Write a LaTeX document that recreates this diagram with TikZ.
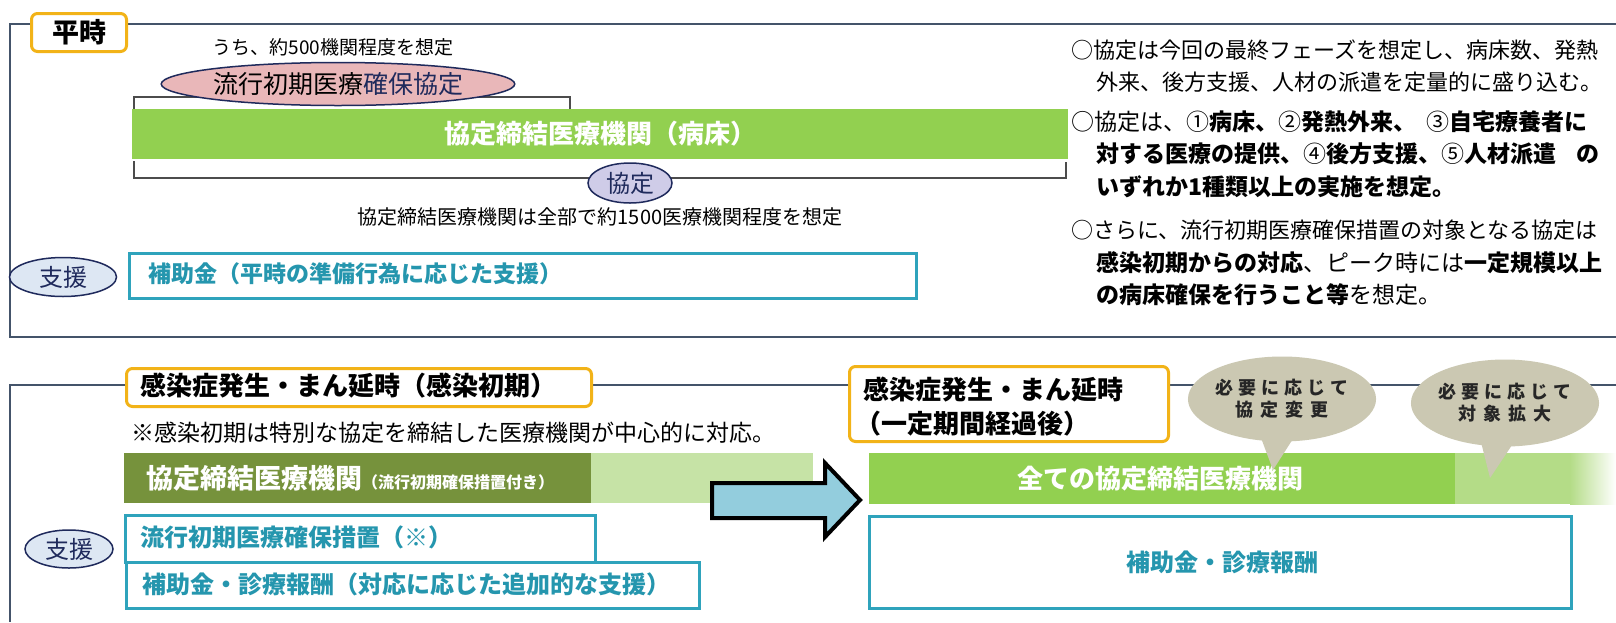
\documentclass[tikz,border=0pt]{standalone}
\usepackage{fontspec}
\setmainfont{Noto Sans CJK JP}
\usetikzlibrary{shapes.geometric,shapes.callouts}
\definecolor{frameC}{HTML}{44546A}
\definecolor{orangeC}{HTML}{F2B318}
\definecolor{greenC}{HTML}{92D050}
\definecolor{lgreenC}{HTML}{B4DC87}
\definecolor{paleGreen}{HTML}{C6E3A6}
\definecolor{oliveC}{HTML}{76923C}
\definecolor{tealC}{HTML}{2FA3BC}
\definecolor{tealT}{HTML}{2596AE}
\definecolor{navyC}{HTML}{1F2A5C}
\definecolor{pinkC}{HTML}{E9B7B9}
\definecolor{lavC}{HTML}{CFCCE8}
\definecolor{lblueC}{HTML}{DDE7F3}
\definecolor{arrowC}{HTML}{93CDDD}
\definecolor{beigeC}{HTML}{CBC8B2}
\newcommand\lsk[1]{\kern#1pt}
\tikzset{
  frame/.style={draw=frameC, line width=2pt},
  lbl/.style={draw=orangeC, line width=3pt, rounded corners=6pt, fill=white, inner sep=0pt},
  tealbox/.style={draw=tealC, line width=3pt, inner sep=0pt},
  bar/.style={inner sep=0pt},
  support/.style={ellipse, draw=navyC, line width=1.5pt, fill=lblueC, inner sep=0pt, text=navyC, font=\fontsize{24}{24}\selectfont},
  body/.style={inner sep=0pt, font=\fontsize{23}{28}\selectfont},
  rtext/.style={inner sep=0pt, anchor=west, font=\fontsize{22}{26}\selectfont},
  rbold/.style={inner sep=0pt, anchor=west, font=\fontsize{23}{26}\selectfont},
  tealtext/.style={inner sep=0pt, text=tealT, font=\fontsize{24}{28}\selectfont\bfseries},
  bracket/.style={draw=black!70, line width=1.5pt},
  bubble/.style={ellipse callout, fill=beigeC, inner sep=0pt, callout pointer arc=18, align=center, text=black!85, font=\fontsize{18}{22}\selectfont\bfseries}
}
\begin{document}
\begin{tikzpicture}[x=1pt,y=-1pt]
\useasboundingbox[fill=white] (0,0) rectangle (1616,622);
% ---------- top panel ----------
\draw[frame] (1616,24) -- (10,24) -- (10,337) -- (1616,337);
\node[lbl, minimum width=95, minimum height=38, anchor=north west] (heiji) at (30,12) {};
\node[inner sep=0pt, font=\fontsize{27}{27}\selectfont\bfseries] (heijiT) at (heiji.center) {平時};
\node[body, font=\fontsize{19}{22}\selectfont] (uchi) at (333,47) {うち、約500機関程度を想定};
\draw[bracket] (134,110) -- (134,97) -- (570,97) -- (570,110);
\node[ellipse, draw=navyC, line width=1.5pt, fill=pinkC, minimum width=285, minimum height=43, inner sep=0pt, font=\fontsize{25}{25}\selectfont] (ryuko) at (338,84) {流行初期医療\textcolor{navyC}{確保協定}};
\node[bar, fill=greenC, minimum width=936, minimum height=50, anchor=north west] (gbar) at (132,109) {};
\node[inner sep=0pt, text=white, font=\fontsize{26}{26}\selectfont\bfseries] (gbarT) at (600,134) {協定締結医療機関（病床）};
\draw[bracket] (134,161) -- (134,178) -- (1066,178) -- (1066,162);
\node[ellipse, draw=navyC, line width=1.5pt, fill=lavC, minimum width=84, minimum height=40, inner sep=0pt, text=navyC, font=\fontsize{24}{24}\selectfont] (kyotei) at (630,183) {協定};
\node[body, font=\fontsize{20}{24}\selectfont] (all1500) at (600,217) {協定締結医療機関は全部で約1500医療機関程度を想定};
\node[support, minimum width=107, minimum height=39] (shien1) at (63,277) {支援};
\node[tealbox, minimum width=787, minimum height=45, anchor=north west] (hojo1) at (128,252) {};
\node[tealtext, font=\fontsize{23}{28}\selectfont\bfseries, anchor=west] (hojo1T) at (148,274) {補助金（平時の準備行為に応じた支援）};
% right text
\node[rtext] (r1) at (1071,50) {○協定は今回の最終フェーズを想定し、病床数、発熱};
\node[rtext] (r2) at (1096,82) {外来、後方支援、人材の派遣を定量的に盛り込む。};
\node[rbold] (r3) at (1071,122) {○協定は、①{\bfseries 病床、}②{\bfseries 発熱外来、}\kern10pt③{\bfseries 自宅療養者に}};
\node[rbold] (r4) at (1096,154) {\bfseries 対する医療の提供、{\mdseries ④}後方支援、{\mdseries ⑤}人材派遣\kern20pt の};
\node[rbold] (r5) at (1096,187) {\bfseries いずれか1種類以上の実施を想定。};
\node[rtext] (r6) at (1071,230) {○さらに、流行初期医療確保措置の対象となる協定は};
\node[rbold] (r7) at (1096,263) {{\bfseries 感染初期からの対応}、ピーク時には{\bfseries 一定規模以上}};
\node[rbold] (r8) at (1096,295) {{\bfseries の病床確保を行うこと等}を想定。};
% ---------- bottom panel ----------
\draw[frame] (1616,385) -- (10,385) -- (10,622);
\node[lbl, minimum width=465, minimum height=38, anchor=north west] (early) at (125,367) {};
\node[inner sep=0pt, font=\fontsize{26}{26}\selectfont\bfseries, anchor=west] (earlyT) at (140,386) {感染症発生・まん延時（感染初期）};
\node[body, anchor=west] (note) at (131,433) {※感染初期は特別な協定を締結した医療機関が中心的に対応。};
\node[bar, fill=paleGreen, minimum width=222, minimum height=50, anchor=north west] (pale) at (591,453) {};
\node[bar, fill=oliveC, minimum width=467, minimum height=50, anchor=north west] (olive) at (124,453) {};
\node[inner sep=0pt, text=white, anchor=west] (oliveT) at (146,478) {{\fontsize{27}{27}\selectfont\bfseries 協定締結医療機関}{\fontsize{16}{16}\selectfont\bfseries （流行初期確保措置付き）}};
\node[tealbox, minimum width=470, minimum height=47, anchor=north west] (sochi) at (124,514) {};
\node[tealtext, anchor=west] (sochiT) at (140,537) {流行初期医療確保措置（※）};
\node[tealbox, minimum width=573, minimum height=46, anchor=north west] (hojo2) at (125,561) {};
\node[tealtext, anchor=west] (hojo2T) at (142,584) {補助金・診療報酬（対応に応じた追加的な支援）};
\node[support, minimum width=88, minimum height=38] (shien2) at (69,549) {支援};
\draw[line width=4pt, fill=arrowC, line join=miter] (712,483) -- (825,483) -- (825,463) -- (860,500) -- (825,537) -- (825,518) -- (712,518) -- cycle;
\node[lbl, minimum width=319, minimum height=75, anchor=north west] (later) at (848,365) {};
\node[inner sep=0pt, font=\fontsize{26}{26}\selectfont\bfseries, anchor=west] (laterT1) at (863,390) {感染症発生・まん延時};
\node[inner sep=0pt, font=\fontsize{26}{26}\selectfont\bfseries, anchor=west] (laterT2) at (855,424) {（一定期間経過後）};
\node[bar, fill=greenC, minimum width=586, minimum height=51, anchor=north west] (gbar2) at (869,453) {};
\node[bar, fill=lgreenC, minimum width=115, minimum height=51, anchor=north west] (gbar2b) at (1455,453) {};
\shade[left color=lgreenC, right color=white] (1570,453) rectangle (1616,504);
\node[inner sep=0pt, text=white, font=\fontsize{26}{26}\selectfont\bfseries] (gbar2T) at (1160,479) {全ての協定締結医療機関};
\node[tealbox, minimum width=702, minimum height=92, anchor=north west] (hojo3) at (868,515) {};
\node[tealtext] (hojo3T) at (1222,562) {補助金・診療報酬};
\node[bubble, minimum width=177, minimum height=85, callout absolute pointer={(1273,470)}] (call1) at (1282,399) {必\lsk5要\lsk5に\lsk5応\lsk5じ\lsk5て\\協\lsk7定\lsk7変\lsk7更};
\node[bubble, minimum width=186, minimum height=87, callout absolute pointer={(1490,478)}] (call2) at (1505,403) {必\lsk5要\lsk5に\lsk5応\lsk5じ\lsk5て\\対\lsk7象\lsk7拡\lsk7大};
\end{tikzpicture}
\end{document}
